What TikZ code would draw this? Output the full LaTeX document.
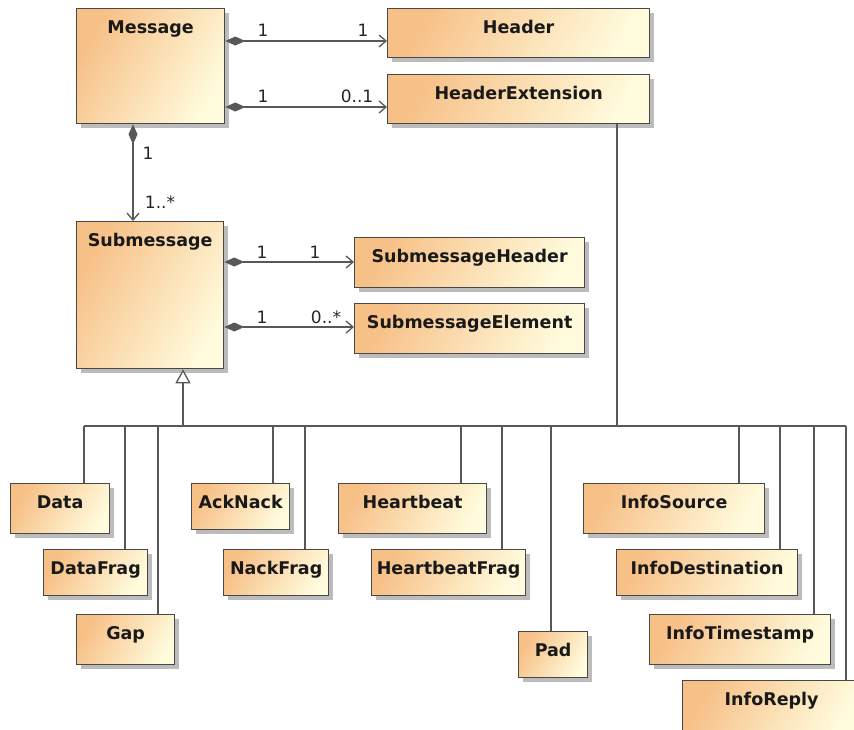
\documentclass[tikz,border=0pt]{standalone}
\usepackage{fontspec}
\setmainfont{DejaVu Sans}
\usetikzlibrary{arrows.meta,shadows,calc}
\definecolor{clsA}{RGB}{247,192,135}
\definecolor{clsB}{RGB}{255,251,220}
\definecolor{lineC}{RGB}{88,88,88}
\definecolor{edgeC}{RGB}{72,72,72}
\tikzset{
  cls/.style={draw=edgeC, line width=1.3pt, left color=clsA, right color=clsB, shading angle=60,
    anchor=north west, inner xsep=0pt, inner ysep=0pt, text height=25pt,
    font=\fontsize{17.5}{20}\selectfont\bfseries, text=black!90,
    drop shadow={shadow xshift=4pt, shadow yshift=-4pt, fill=black!35, opacity=0.75}},
  link/.style={draw=lineC, line width=1.3pt},
  comp/.style={link, {Diamond[length=20pt,width=9pt,fill=lineC]}-{Straight Barb[length=7pt,width=12pt]}},
  gen/.style={link, -{Triangle[open,length=14pt,width=15pt,fill=white]}},
  mult/.style={font=\fontsize{17}{20}\selectfont, inner sep=0pt, text=black!85}
}
% name, x, y, width, height, text depth, text
\newcommand\umlcls[7]{\node[cls, minimum width=#4pt, minimum height=#5pt, text depth=#6pt] (#1) at (#2,#3) {#7};}
\begin{document}
\begin{tikzpicture}[x=1pt,y=-1pt]
\useasboundingbox (0,0) rectangle (854,729);
\clip (0,0) rectangle (854,729);
% top classes
\umlcls{Message}{76}{8}{148}{115}{90}{Message}
\umlcls{Header}{387}{8}{262}{49}{24}{Header}
\umlcls{HeaderExtension}{387}{74}{262}{49}{24}{HeaderExtension}
\umlcls{Submessage}{76}{221}{147}{147}{122}{Submessage}
\umlcls{SubmessageHeader}{354}{237}{230}{50}{25}{SubmessageHeader}
\umlcls{SubmessageElement}{354}{303}{230}{50}{25}{SubmessageElement}
% subclasses
\umlcls{Data}{10}{483}{99}{50}{25}{Data}
\umlcls{DataFrag}{43}{549}{104}{46}{21}{DataFrag}
\umlcls{Gap}{76}{614}{98}{50}{25}{Gap}
\umlcls{AckNack}{191}{483}{98}{46}{21}{AckNack}
\umlcls{NackFrag}{223}{549}{105}{46}{21}{NackFrag}
\umlcls{Heartbeat}{338}{483}{148}{50}{25}{Heartbeat}
\umlcls{HeartbeatFrag}{371}{549}{154}{46}{21}{HeartbeatFrag}
\umlcls{Pad}{518}{631}{69}{46}{21}{Pad}
\umlcls{InfoSource}{583}{483}{181}{50}{25}{InfoSource}
\umlcls{InfoDestination}{616}{549}{181}{46}{21}{InfoDestination}
\umlcls{InfoTimestamp}{649}{614}{181}{50}{25}{InfoTimestamp}
\umlcls{InfoReply}{682}{680}{178}{52}{27}{InfoReply}
% compositions
\draw[comp] ($(Message.north east)+(0,33)$) -- ($(Header.north west)+(0,33)$);
\draw[comp] ($(Message.north east)+(0,99)$) -- ($(HeaderExtension.north west)+(0,33)$);
\draw[comp] ($(Message.south west)+(57,0)$) -- ($(Submessage.north west)+(57,0)$);
\draw[comp] ($(Submessage.north east)+(0,41)$) -- ($(SubmessageHeader.north west)+(0,25)$);
\draw[comp] ($(Submessage.north east)+(0,106)$) -- ($(SubmessageElement.north west)+(0,24)$);
% multiplicities
\node[mult] (m1) at (263,30) {1};
\node[mult] (m2) at (363,30) {1};
\node[mult] (m3) at (263,96) {1};
\node[mult] (m4) at (357,96) {0..1};
\node[mult] (m5) at (148,153) {1};
\node[mult] (m6) at (160,202) {1..*};
\node[mult] (m7) at (262,252) {1};
\node[mult] (m8) at (315,252) {1};
\node[mult] (m9) at (262,317) {1};
\node[mult] (m10) at (326,317) {0..*};
% generalization bus
\coordinate (busL) at (84,426);
\coordinate (busR) at (846,426);
\coordinate (genJ) at (183,426);
\draw[link] (busL) -- (busR);
\draw[gen] (genJ) -- (genJ |- Submessage.south);
\draw[link] ($(HeaderExtension.south west)+(230,0)$) coordinate (tHE) -- (tHE |- busL);
\draw[link] ($(Data.north west)+(74,0)$) coordinate (t1) -- (t1 |- busL);
\draw[link] ($(DataFrag.north west)+(82,0)$) coordinate (t2) -- (t2 |- busL);
\draw[link] ($(Gap.north west)+(82,0)$) coordinate (t3) -- (t3 |- busL);
\draw[link] ($(AckNack.north west)+(82,0)$) coordinate (t4) -- (t4 |- busL);
\draw[link] ($(NackFrag.north west)+(82,0)$) coordinate (t5) -- (t5 |- busL);
\draw[link] ($(Heartbeat.north west)+(123,0)$) coordinate (t6) -- (t6 |- busL);
\draw[link] ($(HeartbeatFrag.north west)+(131,0)$) coordinate (t7) -- (t7 |- busL);
\draw[link] ($(Pad.north west)+(33,0)$) coordinate (t8) -- (t8 |- busL);
\draw[link] ($(InfoSource.north west)+(156,0)$) coordinate (t9) -- (t9 |- busL);
\draw[link] ($(InfoDestination.north west)+(164,0)$) coordinate (t10) -- (t10 |- busL);
\draw[link] ($(InfoTimestamp.north west)+(165,0)$) coordinate (t11) -- (t11 |- busL);
\draw[link] ($(InfoReply.north west)+(164,0)$) coordinate (t12) -- (t12 |- busL);
\end{tikzpicture}
\end{document}
